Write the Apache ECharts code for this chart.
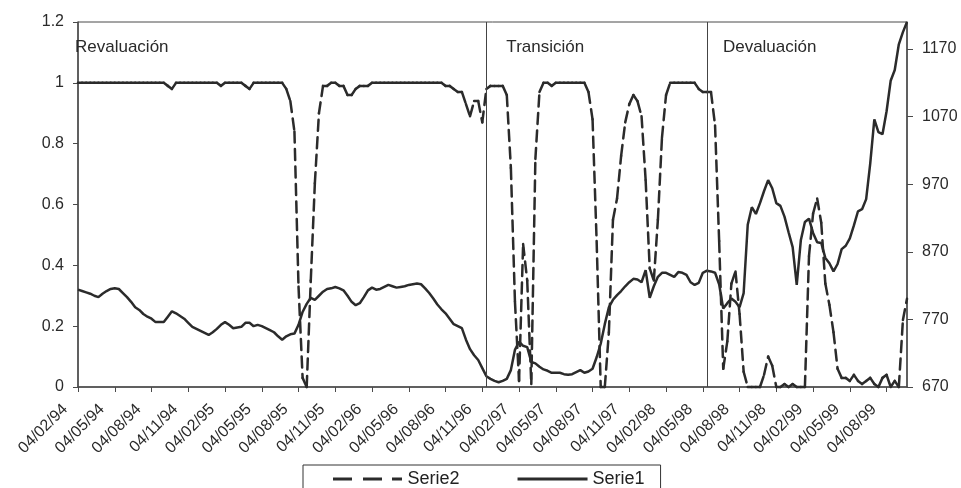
<!DOCTYPE html>
<html>
<head>
<meta charset="utf-8">
<script src="https://cdn.jsdelivr.net/npm/echarts@6/dist/echarts.min.js"></script>
<style>
html,body{margin:0;padding:0;background:#ffffff;}
#chart{width:961px;height:488px;}
</style>
</head>
<body>
<div id="chart"></div>
<script>
// Serie1 (solid line, right axis)
const serie1 = [
814,812,810,808,805,803,808,812,815,816,
815,809,803,796,788,784,778,774,771,766,
766,766,774,782,779,775,771,765,759,756,
753,750,747,751,756,762,766,762,757,758,
759,765,765,760,762,760,757,754,751,745,
740,745,748,749,762,781,793,802,799,805,
811,815,816,818,816,813,805,796,791,794,
803,813,817,814,815,818,821,819,817,818,
819,821,822,823,822,816,809,801,792,785,
779,771,763,760,757,740,726,717,710,698,
686,682,679,677,679,682,695,725,737,731,
729,707,705,700,696,694,691,691,691,689,
688,689,692,695,691,693,697,714,734,763,
788,799,806,812,819,825,830,829,825,843,
802,819,833,839,839,836,833,840,839,836,
825,821,824,839,842,841,839,822,786,794,
801,796,788,809,910,936,926,942,960,976,
964,942,938,922,899,877,821,887,914,919,
898,884,883,861,853,841,852,874,879,890,
909,930,933,948,1001,1066,1047,1044,1078,1123,
1139,1177,1195,1210
];

// Serie2 (dashed line, left axis)
const serie2 = [
1,1,1,1,1,1,1,1,1,1,
1,1,1,1,1,1,1,1,1,1,
1,1,0.99,0.98,1,1,1,1,1,1,
1,1,1,1,1,0.99,1,1,1,1,
1,0.99,0.98,1,1,1,1,1,1,1,
1,0.98,0.94,0.84,0.33,0.03,0,0.35,0.67,0.9,
0.99,0.99,1,1,0.99,0.99,0.96,0.96,0.98,0.99,
0.99,0.99,1,1,1,1,1,1,1,1,
1,1,1,1,1,1,1,1,1,1,
0.99,0.99,0.98,0.97,0.97,0.93,0.89,0.94,0.94,0.87,
0.98,0.99,0.99,0.99,0.99,0.96,0.72,0.28,0.02,0.47,
0.35,0.01,0.75,0.97,1,1,0.99,1,1,1,
1,1,1,1,1,0.97,0.88,0.48,0,0,
0.18,0.55,0.62,0.76,0.87,0.93,0.96,0.94,0.89,0.68,
0.39,0.35,0.55,0.82,0.96,1,1,1,1,1,
1,1,0.98,0.97,0.97,0.97,0.86,0.48,0.06,0.15,
0.34,0.38,0.24,0.05,0,0,0,0,0.04,0.1,
0.07,0,0,0.01,0,0.01,0,0,0,0.43,
0.57,0.62,0.54,0.34,0.27,0.18,0.06,0.03,0.03,0.02,
0.04,0.02,0.01,0.02,0.03,0.01,0,0.03,0.04,0,
0.02,0,0.22,0.29
];

// Observation dates: the 4th, 14th and 24th of each month from Feb 1994
const obsDays = [4, 14, 24];
const startYear = 1994, startMonth = 2;
function pad(n){ return (n < 10 ? '0' : '') + n; }
const categories = [];
for (let i = 0; i < serie1.length; i++) {
  const m = startMonth - 1 + Math.floor(i / 3);
  const y = startYear + Math.floor(m / 12);
  categories.push(pad(obsDays[i % 3]) + '/' + pad(m % 12 + 1) + '/' + String(y).slice(2));
}

const tickLabels = [
'04/02/94','04/05/94','04/08/94','04/11/94','04/02/95','04/05/95','04/08/95','04/11/95',
'04/02/96','04/05/96','04/08/96','04/11/96','04/02/97','04/05/97','04/08/97','04/11/97',
'04/02/98','04/05/98','04/08/98','04/11/98','04/02/99','04/05/99','04/08/99'
];
const rightTicks = [670, 770, 870, 970, 1070, 1170];

const regimeNames = ['Revaluación', 'Transición', 'Devaluación'];
const regimeBreaks = ['14/11/96', '14/05/98'];

const FONT = "'Liberation Sans', Arial, sans-serif";
const INK = '#2b2b2b';
const AX = '#4a4a4a';

const chart = echarts.init(document.getElementById('chart'), null, {renderer: 'canvas'});

const regimeEdges = [categories[0], regimeBreaks[0], regimeBreaks[1], categories[categories.length - 1]];
const labelOffsets = [[-3, 17], [20, 17], [16, 17]];
const areaData = regimeNames.map((n, k) => [
  {name: n, xAxis: regimeEdges[k], label: {offset: labelOffsets[k]}},
  {xAxis: regimeEdges[k + 1]}
]);

const dashIcon = 'path://M0,0h19v3h-19z M30,0h19v3h-19z M59,0h10v3h-10z';

chart.setOption({
  animation: false,
  backgroundColor: '#ffffff',
  grid: {left: 78, right: 54, top: 22, bottom: 101, show: true, borderColor: AX, borderWidth: 1, backgroundColor: 'transparent'},
  legend: {
    left: 303, top: 465,
    data: [
      {name: 'Serie2', icon: dashIcon, itemStyle: {color: INK}},
      {name: 'Serie1', icon: 'rect', itemStyle: {color: INK}}
    ],
    itemWidth: 70, itemHeight: 3, itemGap: 58,
    padding: [4, 16, 40, 30],
    borderColor: '#333', borderWidth: 1,
    textStyle: {fontSize: 18, fontFamily: FONT, color: '#222', lineHeight: 20}
  },
  xAxis: {
    type: 'category',
    data: categories,
    boundaryGap: false,
    axisLine: {lineStyle: {color: AX, width: 1.5}},
    axisTick: {show: true, length: 5, interval: (idx, val) => tickLabels.includes(val), lineStyle: {color: AX}},
    axisLabel: {
      interval: (idx, val) => tickLabels.includes(val),
      rotate: 45, fontSize: 16, fontFamily: FONT, color: '#2a2a2a',
      margin: 7, padding: [0, 18, 0, 0]
    },
    splitLine: {show: false}
  },
  yAxis: [
    {
      type: 'value', position: 'left', min: 0, max: 1.2, interval: 0.2,
      axisLine: {show: true, lineStyle: {color: AX, width: 1.5}},
      axisTick: {show: true, length: 5, lineStyle: {color: AX}},
      axisLabel: {fontSize: 16, fontFamily: FONT, color: '#2a2a2a', margin: 14},
      splitLine: {show: false}
    },
    {
      type: 'value', position: 'right', min: 670, max: 1210,
      axisLine: {show: true, lineStyle: {color: AX, width: 1.5}},
      axisTick: {show: true, length: 6, customValues: rightTicks, lineStyle: {color: AX}},
      axisLabel: {fontSize: 16, fontFamily: FONT, color: '#2a2a2a', margin: 15, customValues: rightTicks,
                  formatter: v => String(v)},
      splitLine: {show: false}
    }
  ],
  series: [
    {
      name: 'Serie2',
      type: 'custom',
      yAxisIndex: 0,
      itemStyle: {color: INK},
      data: serie2.map((v, i) => [i, v]),
      encode: {x: 0, y: 1},
      renderItem: function (params, api) {
        const i = params.dataIndex;
        if (i === 0) return null;
        const p0 = api.coord([i - 1, serie2[i - 1]]);
        const p1 = api.coord([i, api.value(1)]);
        return {
          type: 'line',
          shape: {x1: p0[0], y1: p0[1], x2: p1[0], y2: p1[1]},
          style: {stroke: INK, lineWidth: 2.5, lineDash: [11, 6.5], lineCap: 'round', fill: null}
        };
      }
    },
    {
      name: 'Serie1',
      type: 'line',
      yAxisIndex: 1,
      data: serie1,
      showSymbol: false,
      symbol: 'none',
      color: INK,
      lineStyle: {color: INK, width: 2.5},
      markLine: {
        silent: true, symbol: 'none',
        label: {show: false},
        lineStyle: {color: '#444', width: 1, type: 'solid'},
        data: regimeBreaks.map(d => ({xAxis: d}))
      },
      markArea: {
        silent: true,
        itemStyle: {color: 'rgba(0,0,0,0)'},
        label: {show: true, position: 'insideTopLeft', distance: 0, fontSize: 17, fontFamily: FONT, color: '#2a2a2a'},
        data: areaData
      }
    }
  ]
});
</script>
</body>
</html>
